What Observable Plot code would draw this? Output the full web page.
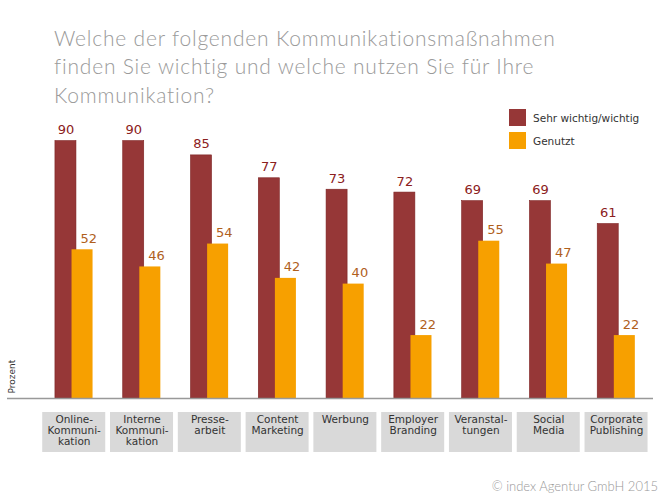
<!DOCTYPE html>
<html><head><meta charset="utf-8">
<script src="https://cdn.jsdelivr.net/npm/d3@7"></script>
<script src="https://cdn.jsdelivr.net/npm/@observablehq/plot@0.6"></script>
<style>
body{margin:0;background:#fff;width:666px;height:499px;position:relative;overflow:hidden;font-family:"DejaVu Sans",sans-serif;}
#title{position:absolute;left:54px;top:24px;font-family:Lato,sans-serif;font-weight:300;font-size:21px;letter-spacing:0.8px;line-height:28.3px;color:#9a9a9a;width:610px;white-space:nowrap;}
#chart{position:absolute;left:0;top:100px;}
#legend{position:absolute;left:509px;top:109px;font-size:10.5px;color:#333;}
#legend div{display:flex;align-items:center;height:17px;margin-bottom:6px;}
#legend span.sw{display:inline-block;width:17px;height:17px;margin-right:7px;}
#footer{position:absolute;right:8px;top:478px;font-family:Lato,sans-serif;font-weight:300;font-size:13px;color:#999;}
</style></head>
<body>
<div id="title">Welche der folgenden Kommunikationsmaßnahmen<br>finden Sie wichtig und welche nutzen Sie für Ihre<br>Kommunikation?</div>
<div id="chart"></div>
<div id="legend"></div>
<div id="footer">© index Agentur GmbH 2015</div>
<script>
const categories = ["Online-\nKommuni-\nkation","Interne\nKommuni-\nkation","Presse-\narbeit","Content\nMarketing","Werbung","Employer\nBranding","Veranstal-\ntungen","Social\nMedia","Corporate\nPublishing"];
const wichtig = [90,90,85,77,73,72,69,69,61];
const genutzt = [52,46,54,42,40,22,55,47,22];
const seriesNames = ["Sehr wichtig/wichtig","Genutzt"];
const colors = ["#963737","#f7a000"];
const labelColors = ["#8b2020","#b0601c"];

const dataW = categories.map((c,i)=>({cat:c, v:wichtig[i]}));
const dataG = categories.map((c,i)=>({cat:c, v:genutzt[i]}));

const chart = Plot.plot({
  width: 666,
  height: 375,
  marginTop: 12,
  marginBottom: 77,
  marginLeft: 7,
  marginRight: 13,
  style: {fontFamily: "DejaVu Sans, sans-serif", background: "transparent", overflow: "visible"},
  x: {domain: categories, type: "band", round: false, paddingInner: 0.69, paddingOuter: 0.61, align: 0.68, axis: null},
  y: {domain: [0,100], axis: null},
  marks: [
    Plot.barY(categories, {x: d=>d, y1: 0, y2: 0, insetTop: 14, insetBottom: -54, insetLeft: -21, insetRight: -21, fill: "#d9d9d9"}),
    Plot.text(categories, {x: d=>d, y: 0, text: d=>d, dy: 17, lineAnchor: "top", lineHeight: 1.05, fontSize: 10.5, fill: "#333"}),
    Plot.barY(dataW, {x: "cat", y: "v", dx: -8.3, fill: colors[0], stroke: "#7d2222", strokeWidth: 0.6}),
    Plot.barY(dataG, {x: "cat", y: "v", dx: 8.3, fill: colors[1]}),
    Plot.text(dataW, {x: "cat", y: "v", text: d=>String(d.v), dx: -8.3, dy: -7, lineAnchor: "bottom", fontSize: 13, fill: labelColors[0]}),
    Plot.text(dataG, {x: "cat", y: "v", text: d=>String(d.v), dx: 14.5, dy: -7, lineAnchor: "bottom", fontSize: 13, fill: labelColors[1]}),
    Plot.ruleY([0], {stroke: "#999", strokeWidth: 1.5}),
    Plot.text(["Prozent"], {frameAnchor: "bottom-left", text: d=>d, rotate: -90, textAnchor: "start", lineAnchor: "top", dx: 1, dy: -5, fontSize: 9, fill: "#333"})
  ]
});
document.getElementById("chart").appendChild(chart);

const lg = document.getElementById("legend");
seriesNames.forEach((n,i)=>{
  const row = document.createElement("div");
  const sw = document.createElement("span"); sw.className="sw"; sw.style.background=colors[i];
  row.appendChild(sw); row.appendChild(document.createTextNode(n));
  lg.appendChild(row);
});
</script>
</body></html>
